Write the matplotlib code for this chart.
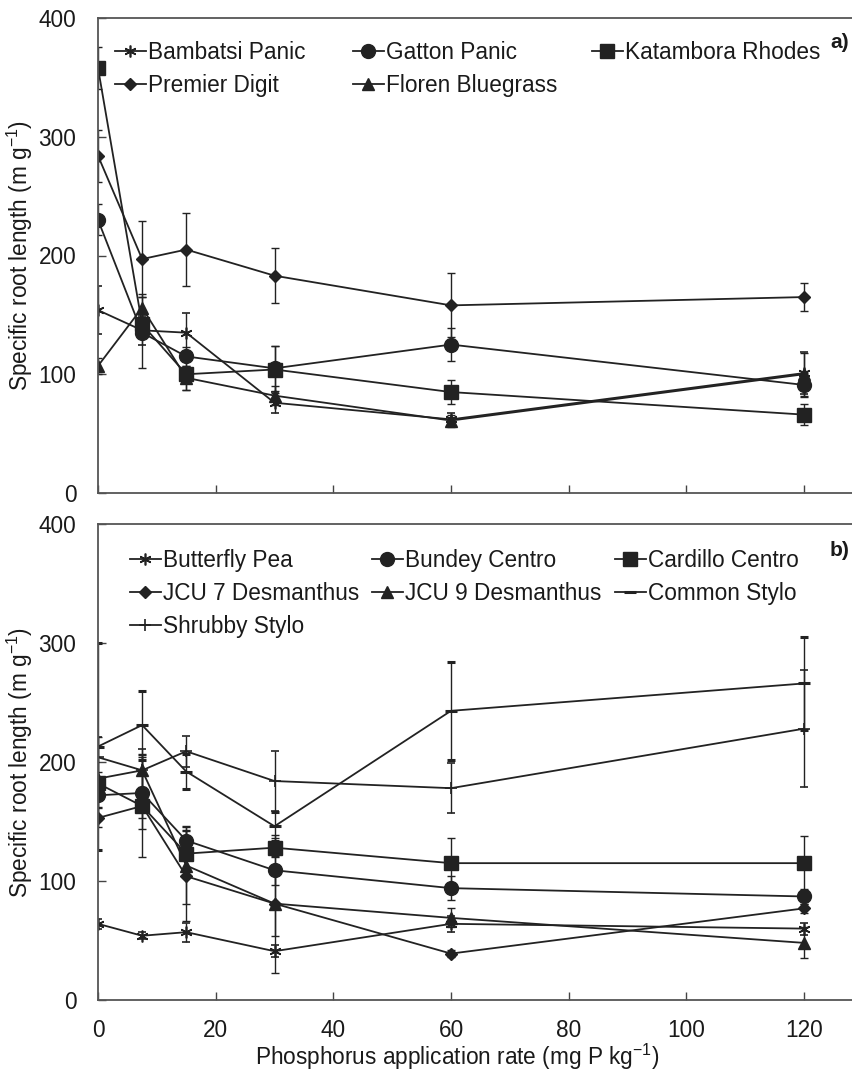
import matplotlib
matplotlib.use("Agg")
import matplotlib.pyplot as plt
from matplotlib.legend import Legend

plt.rcParams['font.family'] = ['Liberation Sans', 'DejaVu Sans']
plt.rcParams['mathtext.fontset'] = 'custom'
plt.rcParams['mathtext.rm'] = 'Liberation Sans'
plt.rcParams['mathtext.it'] = 'Liberation Sans:italic'
plt.rcParams['mathtext.bf'] = 'Liberation Sans:bold'

# ---------------- data ----------------
p_rate = [0, 7.5, 15, 30, 60, 120]

# panel a) grasses
bambatsi = [154, 137, 135, 76, 62, 101]
bambatsi_err = [20, 12, 17, 9, 5, 18]
gatton = [230, 135, 115, 105, 125, 91]
gatton_err = [13, 30, 8, 19, 14, 10]
katambora = [358, 142, 100, 104, 85, 66]
katambora_err = [18, 10, 13, 20, 10, 9]
premier = [284, 197, 205, 183, 158, 165]
premier_err = [22, 32, 31, 23, 27, 12]
floren = [107, 156, 97, 82, 61, 100]
floren_err = [7, 12, 10, 8, 5, 18]

# panel b) legumes
butterfly = [64, 54, 57, 41, 64, 60]
butterfly_err = [4, 3, 8, 5, 7, 5]
bundey = [172, 174, 134, 109, 94, 87]
bundey_err = [10, 30, 12, 12, 10, 6]
cardillo = [182, 163, 123, 128, 115, 115]
cardillo_err = [10, 43, 20, 8, 21, 23]
jcu7 = [153, 163, 104, 81, 39, 77]
jcu7_err = [8, 10, 38, 58, 3, 4]
jcu9 = [186, 193, 113, 81, 69, 48]
jcu9_err = [35, 14, 32, 27, 8, 13]
common = [213, 231, 192, 146, 243, 266]
common_err = [87, 29, 15, 12, 41, 39]
shrubby = [204, 193, 209, 184, 178, 228]
shrubby_err = [17, 18, 13, 25, 21, 49]

x_ticks = [0, 20, 40, 60, 80, 100, 120]
y_ticks = [0, 100, 200, 300, 400]

# ---------------- styling ----------------
LC = '#222222'
FS = 16.3
ASTER = (6, 2, 0)

top_series = [
    ("Bambatsi Panic", bambatsi, bambatsi_err, dict(marker=ASTER, ms=8.5, mew=1.2)),
    ("Gatton Panic", gatton, gatton_err, dict(marker='o', ms=10)),
    ("Katambora Rhodes", katambora, katambora_err, dict(marker='s', ms=9.5)),
    ("Premier Digit", premier, premier_err, dict(marker='D', ms=5.8)),
    ("Floren Bluegrass", floren, floren_err, dict(marker='^', ms=9)),
]
bot_series = [
    ("Butterfly Pea", butterfly, butterfly_err, dict(marker=ASTER, ms=8.5, mew=1.2)),
    ("Bundey Centro", bundey, bundey_err, dict(marker='o', ms=10)),
    ("Cardillo Centro", cardillo, cardillo_err, dict(marker='s', ms=9.5)),
    ("JCU 7 Desmanthus", jcu7, jcu7_err, dict(marker='D', ms=5.8)),
    ("JCU 9 Desmanthus", jcu9, jcu9_err, dict(marker='^', ms=9)),
    ("Common Stylo", common, common_err, dict(marker='_', ms=9, mew=2.2)),
    ("Shrubby Stylo", shrubby, shrubby_err, dict(marker='+', ms=8, mew=1.2)),
]

W, H = 852, 1073
fig = plt.figure(figsize=(W / 100, H / 100), dpi=100)

ax_left = 98 / W
ax_w = (856 - 98) / W
ax_a = fig.add_axes([ax_left, 1 - 493 / H, ax_w, (493 - 18) / H])
ax_b = fig.add_axes([ax_left, 1 - 1000 / H, ax_w, (1000 - 524) / H])

xmax = 758 / ((804 - 98) / 120)


def draw(ax, series):
    handles = {}
    for name, vals, errs, mk in series:
        cont = ax.errorbar(p_rate, vals, yerr=errs, color=LC, lw=1.3,
                           elinewidth=1.0, capsize=3, capthick=1.0,
                           mfc=LC, mec=LC, **mk)
        handles[name] = cont.lines[0]
    ax.set_xlim(0, xmax)
    ax.set_ylim(0, 400)
    ax.set_xticks(x_ticks)
    ax.set_yticks(y_ticks)
    ax.tick_params(direction='in', length=6, width=1.0, color='#444444',
                   labelsize=FS, labelcolor='#1a1a1a')
    ax.tick_params(axis='y', pad=15.5)
    ax.tick_params(axis='x', pad=13.5)
    for s in ax.spines.values():
        s.set_color('#555555')
        s.set_linewidth(1.3)
    ax.set_ylabel(r'Specific root length (m g$^{-1}$)', fontsize=FS,
                  color='#1a1a1a')
    ax.yaxis.set_label_coords(-0.083, 0.5)
    return handles


ha = draw(ax_a, top_series)
hb = draw(ax_b, bot_series)
ax_a.tick_params(axis='x', labelbottom=False)


def column_legends(ax, handles, columns, xs, ytop):
    for names, xpx in zip(columns, xs):
        leg = Legend(ax, [handles[n] for n in names], names,
                     loc='upper left',
                     bbox_to_anchor=((xpx - 98) / 758, ytop),
                     frameon=False, fontsize=FS, borderpad=0,
                     borderaxespad=0, handlelength=1.35,
                     handletextpad=0.12, labelspacing=0.45,
                     labelcolor='#1a1a1a')
        ax.add_artist(leg)


column_legends(ax_a, ha,
               [["Bambatsi Panic", "Premier Digit"],
                ["Gatton Panic", "Floren Bluegrass"],
                ["Katambora Rhodes"]],
               [115, 353, 592], (493 - 41) / 475)
column_legends(ax_b, hb,
               [["Butterfly Pea", "JCU 7 Desmanthus", "Shrubby Stylo"],
                ["Bundey Centro", "JCU 9 Desmanthus"],
                ["Cardillo Centro", "Common Stylo"]],
               [130, 372, 615], (1000 - 549) / 476)

ax_a.text((840 - 98) / 758, (493 - 43) / 475, 'a)', transform=ax_a.transAxes,
          fontsize=15, fontweight='bold', ha='center', va='center',
          color='#1a1a1a')
ax_b.text((840 - 98) / 758, (1000 - 550) / 476, 'b)', transform=ax_b.transAxes,
          fontsize=15, fontweight='bold', ha='center', va='center',
          color='#1a1a1a')

fig.text(457 / W, 1 - 1057 / H, r'Phosphorus application rate (mg P kg$^{-1}$)',
         fontsize=FS, ha='center', va='center', color='#1a1a1a')

fig.savefig('out.png', dpi=100)
